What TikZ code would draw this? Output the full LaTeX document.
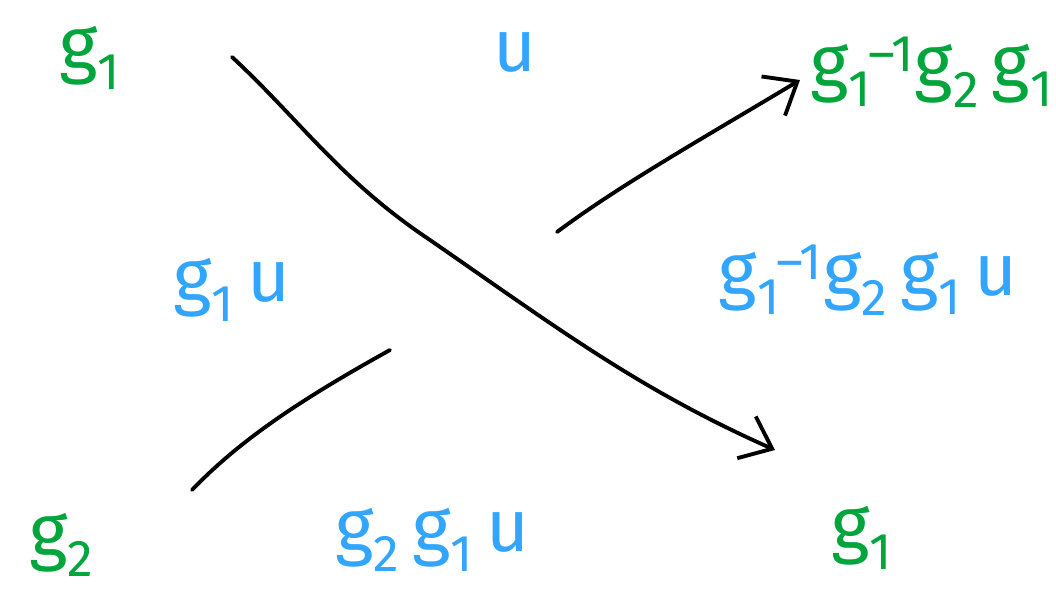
\documentclass[tikz,border=0pt]{standalone}
\usepackage{fontspec}
\setmainfont{Fira Sans}
\usetikzlibrary{arrows.meta}
\definecolor{gr}{RGB}{0,165,60}
\definecolor{bl}{RGB}{50,165,255}
\newcommand{\lsub}[1]{\textsubscript{#1}}
\newcommand{\lsubsup}[2]{\textsubscript{#1}\kern-0.05em\textsuperscript{#2}}
\begin{document}
\begin{tikzpicture}[x=0.02cm,y=-0.02cm,
  lab/.style={font=\fontsize{42}{48}\selectfont},
  grl/.style={lab,text=gr},
  bll/.style={lab,text=bl},
  strand/.style={line width=2.2pt,line cap=round},
  tip/.style={-{Straight Barb[length=16pt,width=26pt,line width=2.2pt]}}]
\useasboundingbox (0,0) rectangle (1056,592);
\node[grl] (ga) at (90,58) {g\lsub{1}};
\node[bll] (u) at (515,52) {u};
\node[grl] (gb) at (932,72) {g\lsubsup{1}{–1}g\lsub{2}\,g\lsub{1}};
\node[bll] (gu) at (232,290) {g\lsub{1}\,u};
\node[bll] (gbu) at (868,280) {g\lsubsup{1}{–1}g\lsub{2}\,g\lsub{1}\,u};
\node[grl] (gc) at (62,545) {g\lsub{2}};
\node[bll] (ggu) at (432,540) {g\lsub{2}\,g\lsub{1}\,u};
\node[grl] (gd) at (862,538) {g\lsub{1}};
\coordinate (o1) at (232,57);
\coordinate (o2) at (775,450);
\coordinate (u1) at (192,490);
\coordinate (u2) at (390,350);
\coordinate (u3) at (557,232);
\coordinate (u4) at (800,80);
\draw[strand,tip] (o1) .. controls (300,120) and (340,180) .. (430,240)
  .. controls (560,330) and (640,390) .. (o2);
\draw[strand] (u1) .. controls (240,440) and (300,400) .. (u2);
\draw[strand,tip] (u3) .. controls (620,185) and (700,140) .. (u4);
\end{tikzpicture}
\end{document}
